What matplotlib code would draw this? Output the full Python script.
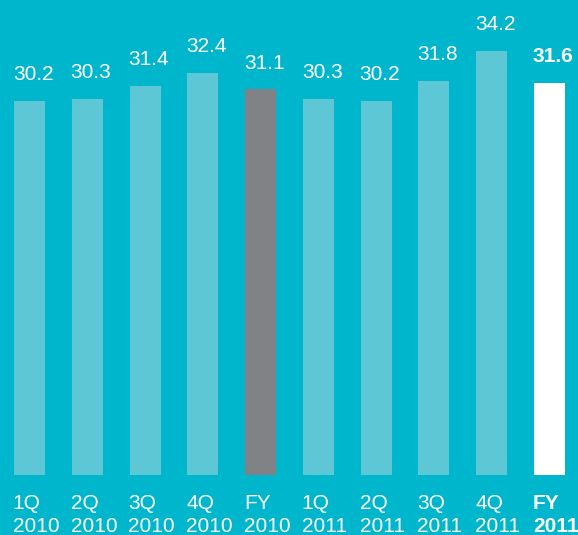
import matplotlib.pyplot as plt

BG_COLOR = '#00b6cd'
BAR_COLOR = '#5dc7d6'
FY10_COLOR = '#808285'
FY11_COLOR = '#ffffff'

periods = ['1Q', '2Q', '3Q', '4Q', 'FY', '1Q', '2Q', '3Q', '4Q', 'FY']
years = ['2010', '2010', '2010', '2010', '2010',
         '2011', '2011', '2011', '2011', '2011']
values = [30.2, 30.3, 31.4, 32.4, 31.1, 30.3, 30.2, 31.8, 34.2, 31.6]

plt.rcParams['font.family'] = ['Liberation Sans', 'DejaVu Sans']

W, H, DPI = 578, 535, 100
fig = plt.figure(figsize=(W / DPI, H / DPI), dpi=DPI, facecolor=BG_COLOR)
base_px = 475
ax = fig.add_axes([0, (H - base_px) / H, 1, base_px / H])
ax.set_facecolor(BG_COLOR)
for s in ax.spines.values():
    s.set_visible(False)
ax.set_xticks([])
ax.set_yticks([])

pitch = 57.78
x0 = 29.5
ax.set_xlim(-x0 / pitch, (W - x0) / pitch)
ax.set_ylim(0, base_px / 12.4)

width = 0.537
colors = [BAR_COLOR] * len(values)
colors[4] = FY10_COLOR
colors[9] = FY11_COLOR
xs = list(range(len(values)))
ax.bar(xs, values, width=width, color=colors, linewidth=0)

FS = 15
for i, v in enumerate(values):
    weight = 'bold' if i == 9 else 'normal'
    left = i - width / 2
    ax.annotate(f'{v:.1f}', xy=(left, v), xytext=(-0.8, 15),
                textcoords='offset points', ha='left', va='baseline',
                color='white', fontsize=FS, fontweight=weight)
    ax.annotate(periods[i], xy=(left, 0), xytext=(-0.8, -14),
                textcoords='offset points', ha='left', va='top',
                color='white', fontsize=FS, fontweight=weight,
                annotation_clip=False)
    ax.annotate(years[i], xy=(left, 0), xytext=(-0.8, -30.5),
                textcoords='offset points', ha='left', va='top',
                color='white', fontsize=FS, fontweight=weight,
                annotation_clip=False)

fig.savefig('out.png', dpi=DPI, facecolor=BG_COLOR)
